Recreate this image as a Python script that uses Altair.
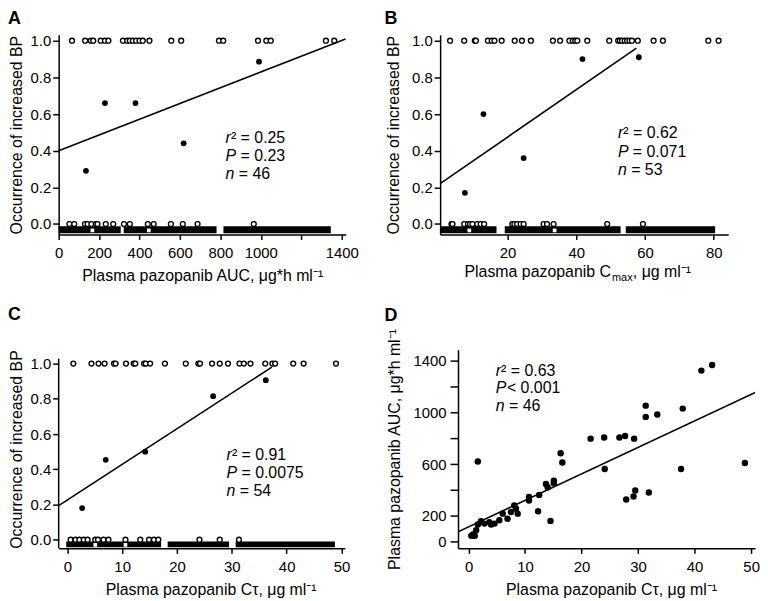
import altair as alt
import pandas as pd

FONT = "Liberation Sans"
NB = "\u00a0"

# ---------------- Panel A : AUC vs occurrence ----------------
A_hi_x = [66, 131, 159, 171, 208, 229, 246, 318, 339, 352, 367, 383, 400, 416, 449,
          557, 606, 793, 814, 986, 1027, 1049, 1322, 1363]
A_lo_x = [53, 77, 130, 143, 162, 184, 192, 233, 270, 323, 352, 441, 470, 555, 614, 687, 965]
A_mean_x = [135, 229, 380, 618, 991]
A_mean_y = [0.29, 0.66, 0.66, 0.44, 0.886]
A_fit_x = [0, 1419]
A_fit_y = [0.40, 1.01]
A_band_start = [0, 322, 815]
A_band_end = [307, 781, 1346]
A_gap_x = [167, 446]
A_stats = [("r", "\u00b2 = 0.25"), ("P", "= 0.23"), ("n", "= 46")]

# ---------------- Panel B : Cmax vs occurrence ----------------
B_hi_x = [3.3, 7.4, 10.5, 10.8, 14.3, 15.4, 16.2, 18.3, 22.1, 24.2, 26.8, 33.2, 35.3, 38.0,
          39.0, 39.7, 40.3, 43.2, 49.6, 52.2, 52.7, 53.3, 54.1, 54.8, 55.5, 56.2, 57.9,
          62.5, 65.2, 78.4, 81.4]
B_lo_x = [3.7, 4.0, 7.4, 8.5, 9.1, 9.8, 11.2, 12.2, 13.2, 21.4, 22.0, 22.8, 23.8, 24.7,
          30.5, 31.5, 33.4, 49.0, 59.4]
B_mean_x = [7.6, 13.0, 24.7, 41.8, 58.2]
B_mean_y = [0.17, 0.60, 0.36, 0.90, 0.91]
B_fit_x = [0.4, 57.5]
B_fit_y = [0.22, 0.96]
B_band_start = [0.4, 19.2, 54.4]
B_band_end = [16.8, 52.9, 80.4]
B_gap_x = [8.9, 33.7]
B_stats = [("r", "\u00b2 = 0.62"), ("P", "= 0.071"), ("n", "= 53")]

# ---------------- Panel C : Ctau vs occurrence ----------------
C_hi_x = [1.1, 4.4, 5.7, 6.8, 8.5, 8.8, 10.7, 12.1, 12.4, 14.0, 14.3, 15.1, 17.8, 21.6,
          23.9, 24.2, 26.4, 27.8, 29.3, 31.4, 32.2, 33.4, 36.1, 37.4, 37.9, 41.2, 43.1, 49.0]
C_lo_x = [0.6, 1.5, 2.2, 3.0, 3.7, 5.1, 5.6, 6.6, 7.5, 10.6, 13.3, 14.9, 15.8, 16.6,
          24.1, 27.8, 31.3]
C_mean_x = [2.7, 7.0, 14.2, 26.6, 36.2]
C_mean_y = [0.18, 0.454, 0.50, 0.815, 0.906]
C_fit_x = [-1.58, 37.3]
C_fit_y = [0.194, 0.98]
C_band_start = [-0.2, 18.3, 30.7]
C_band_end = [17.1, 29.5, 48.8]
C_gap_x = [5.1, 10.6]
C_stats = [("r", "\u00b2 = 0.91"), ("P", "= 0.0075"), ("n", "= 54")]

# ---------------- Panel D : Ctau vs AUC ----------------
D_x = [41.2, 43.1, 31.35, 31.35, 33.4, 37.9, 21.6, 24.0, 26.7, 27.7, 29.3,
       1.65, 16.3, 16.6, 24.1, 37.6, 48.9, 27.9, 29.2, 29.5, 31.9, 14.5, 12.3, 12.5,
       10.7, 10.7, 13.7, 14.0, 15.1, 15.1, 8.1, 8.7, 8.4, 6.9, 6.05, 5.45, 4.6, 4.0,
       2.8, 2.2, 1.65, 1.35, 0.8, 0.5, 1.1, 7.5, 3.7]
D_y = [1323, 1366, 1052, 965, 983, 1029, 797, 805, 805, 817, 797,
       620, 684, 613, 562, 562, 608, 327, 350, 396, 380, 161, 235, 362,
       345, 319, 447, 421, 472, 452, 281, 217, 255, 178, 217, 166, 140, 133,
       140, 158, 133, 89, 56, 46, 46, 230, 150]
D_fit_x = [-1.86, 52.0]
D_fit_y = [77, 1180]
D_stats = [("r", "\u00b2 = 0.63"), ("P", "< 0.001"), ("n", "= 46")]

# width of the italic symbol plus the gap that follows it
SYM_W = {"r": 5.4, "P": 15.0, "n": 13.3}
TIGHT_P = 11.2


def text_layer(txt, x, y, size=16, weight="normal", style="normal",
               align="left", baseline="alphabetic", color="black"):
    return alt.Chart(pd.DataFrame({"t": [txt]})).mark_text(
        align=align, baseline=baseline, font=FONT, fontSize=size,
        fontWeight=weight, fontStyle=style, color=color
    ).encode(x=alt.value(x), y=alt.value(y), text="t:N")


def stats_layers(stats, x, ys, tight_p=False):
    out = []
    for (sym, rest), y in zip(stats, ys):
        w = TIGHT_P if (tight_p and sym == "P") else SYM_W[sym]
        out.append(text_layer(sym, x, y, style="italic"))
        out.append(text_layer(rest.replace(" ", NB), x + w, y))
    return out


def occ_panel(hi_x, lo_x, mean_x, mean_y, fit_x, fit_y, band_s, band_e, gap_x,
              xdom, ydom, band_y, width, height, xaxis, yaxis, extra):
    xs = alt.Scale(domain=xdom, nice=False, zero=False)
    ys = alt.Scale(domain=ydom, nice=False, zero=False)
    band = alt.Chart(pd.DataFrame({"s": band_s, "e": band_e})).mark_rect(
        color="black").encode(
        x=alt.X("s:Q", scale=xs, axis=xaxis), x2="e:Q",
        y=alt.Y(datum=band_y[0], scale=ys, axis=yaxis), y2=alt.Y2(datum=band_y[1]))
    gaps = alt.Chart(pd.DataFrame({"g": gap_x})).mark_square(
        color="white", size=14, opacity=1).encode(
        x=alt.X("g:Q", scale=xs, axis=xaxis),
        y=alt.Y(datum=band_y[1] * 0.7, scale=ys, axis=yaxis))
    obs = pd.DataFrame({"x": list(hi_x) + list(lo_x),
                        "y": [1.0] * len(hi_x) + [0.0] * len(lo_x)})
    opens = alt.Chart(obs).mark_point(
        shape="circle", filled=True, fill="white", stroke="black",
        strokeWidth=1.4, size=24, opacity=1).encode(
        x=alt.X("x:Q", scale=xs, axis=xaxis), y=alt.Y("y:Q", scale=ys, axis=yaxis))
    means = alt.Chart(pd.DataFrame({"x": mean_x, "y": mean_y})).mark_circle(
        color="black", size=34, opacity=1).encode(
        x=alt.X("x:Q", scale=xs, axis=xaxis), y=alt.Y("y:Q", scale=ys, axis=yaxis))
    fit = alt.Chart(pd.DataFrame({"x": fit_x, "y": fit_y})).mark_line(
        color="black", strokeWidth=1.6).encode(
        x=alt.X("x:Q", scale=xs, axis=xaxis), y=alt.Y("y:Q", scale=ys, axis=yaxis))
    return alt.layer(band, gaps, opens, means, fit, *extra).properties(
        width=width, height=height)


occ_y_vals = [0.0, 0.2, 0.4, 0.6, 0.8, 1.0]
occ_title = "Occurrence of increased BP"


def occ_yaxis(tp, domain=True):
    return alt.Axis(values=occ_y_vals, format=".1f", title=occ_title,
                    tickSize=6, labelPadding=2, titlePadding=tp, domain=domain)


# invisible spacer fixing the bottom extent of the first row
spacer = alt.Chart(pd.DataFrame({"a": [0]})).mark_rule(
    color="white", strokeWidth=1).encode(
    x=alt.value(0), y=alt.value(250), y2=alt.value(262))

# ---- Panel A
A_xaxis = alt.Axis(values=list(range(0, 1401, 200)), format="d",
                   labelExpr="datum.value == 1200 ? '' : datum.label",
                   title="Plasma pazopanib AUC, \u03bcg*h ml\u207b\u00b9",
                   tickSize=5, labelPadding=6, titlePadding=7)
panel_A = occ_panel(A_hi_x, A_lo_x, A_mean_x, A_mean_y, A_fit_x, A_fit_y,
                    A_band_start, A_band_end, A_gap_x,
                    [0, 1420], [-0.057, 1.0325], [-0.012, -0.05], 289, 201,
                    A_xaxis, occ_yaxis(6),
                    [spacer,
                     text_layer("A", -51, -25, size=18, weight="bold", baseline="top")]
                    + stats_layers(A_stats, 168, [109, 127, 145]))

# ---- Panel B
B_xaxis = alt.Axis(values=[20, 40, 60, 80], title=None,
                   tickSize=5, labelPadding=6)
panel_B = occ_panel(B_hi_x, B_lo_x, B_mean_x, B_mean_y, B_fit_x, B_fit_y,
                    B_band_start, B_band_end, B_gap_x,
                    [0.4, 84.2], [-0.057, 1.0325], [-0.012, -0.05], 290, 201,
                    B_xaxis, occ_yaxis(10),
                    [text_layer("B", -56, -25, size=18, weight="bold", baseline="top"),
                     text_layer("Plasma pazopanib C", 172, 244, align="right"),
                     text_layer("max", 173, 248, size=11),
                     text_layer(", \u03bcg ml\u207b\u00b9".replace(" ", NB), 194, 244)]
                    + stats_layers(B_stats, 179, [104, 123, 141]))

# ---- Panel C
C_xdom = [-1.58, 50.6]
C_ydom = [-0.049, 1.079]
C_xaxis = alt.Axis(values=[0, 10, 20, 30, 40, 50],
                   title="Plasma pazopanib C\u03c4, \u03bcg ml\u207b\u00b9",
                   titleX=153, tickSize=5, labelPadding=6, titlePadding=7)
C_yaxis = occ_yaxis(6, domain=False)
C_axis_line = alt.Chart(pd.DataFrame({"a": [0]})).mark_rule(
    color="black", strokeWidth=1.5).encode(
    x=alt.X(datum=C_xdom[0], scale=alt.Scale(domain=C_xdom, nice=False, zero=False), axis=C_xaxis),
    y=alt.Y(datum=C_ydom[0], scale=alt.Scale(domain=C_ydom, nice=False, zero=False), axis=C_yaxis),
    y2=alt.Y2(datum=1.028))
panel_C = occ_panel(C_hi_x, C_lo_x, C_mean_x, C_mean_y, C_fit_x, C_fit_y,
                    C_band_start, C_band_end, C_gap_x,
                    C_xdom, C_ydom, [-0.01, -0.042], 288, 200,
                    C_xaxis, C_yaxis,
                    [C_axis_line,
                     text_layer("C", -51, -44, size=18, weight="bold", baseline="top")]
                    + stats_layers(C_stats, 169, [111, 129, 147]))

# ---- Panel D
D_xs = alt.Scale(domain=[-1.86, 50.69], nice=False, zero=False)
D_ys = alt.Scale(domain=[-51.5, 1484.6], nice=False, zero=False)
D_xaxis = alt.Axis(values=[0, 10, 20, 30, 40, 50],
                   title="Plasma pazopanib C\u03c4, \u03bcg ml\u207b\u00b9",
                   titleX=154, tickSize=5, labelPadding=6, titlePadding=7)
D_yaxis = alt.Axis(values=list(range(0, 1401, 200)), format="d",
                   labelExpr="(datum.value == 400 || datum.value == 800 || datum.value == 1200) ? '' : datum.label",
                   title="Plasma pazopanib AUC, \u03bcg*h ml\u207b\u00b9",
                   tickSize=8, labelPadding=4, titlePadding=11)
D_points = alt.Chart(pd.DataFrame({"x": D_x, "y": D_y})).mark_circle(
    color="black", size=42, opacity=1).encode(
    x=alt.X("x:Q", scale=D_xs, axis=D_xaxis), y=alt.Y("y:Q", scale=D_ys, axis=D_yaxis))
D_fit = alt.Chart(pd.DataFrame({"x": D_fit_x, "y": D_fit_y})).mark_line(
    color="black", strokeWidth=1.6, clip=True).encode(
    x=alt.X("x:Q", scale=D_xs, axis=D_xaxis), y=alt.Y("y:Q", scale=D_ys, axis=D_yaxis))
panel_D = alt.layer(
    D_points, D_fit,
    text_layer("D", -74, -43, size=18, weight="bold", baseline="top"),
    *stats_layers(D_stats, 38, [26, 44, 62], tight_p=True)
).properties(width=299, height=200)

row1 = alt.hconcat(panel_A, panel_B, spacing=95, bounds="flush")
row2 = alt.hconcat(panel_C, panel_D, spacing=114, bounds="flush")
chart = alt.vconcat(row1, row2, spacing=10, bounds="full").properties(
    padding=0, background="white"
).configure_view(stroke=None).configure_axis(
    domainColor="black", domainWidth=1.5, tickColor="black", tickWidth=1.5,
    labelColor="black", labelFont=FONT, labelFontSize=15,
    titleFont=FONT, titleFontSize=16, titleFontWeight="normal", titleColor="black",
    grid=False, labelFlush=False, labelOverlap=False
)

chart.save("out.html", embed_options={"renderer": "svg", "actions": False})
